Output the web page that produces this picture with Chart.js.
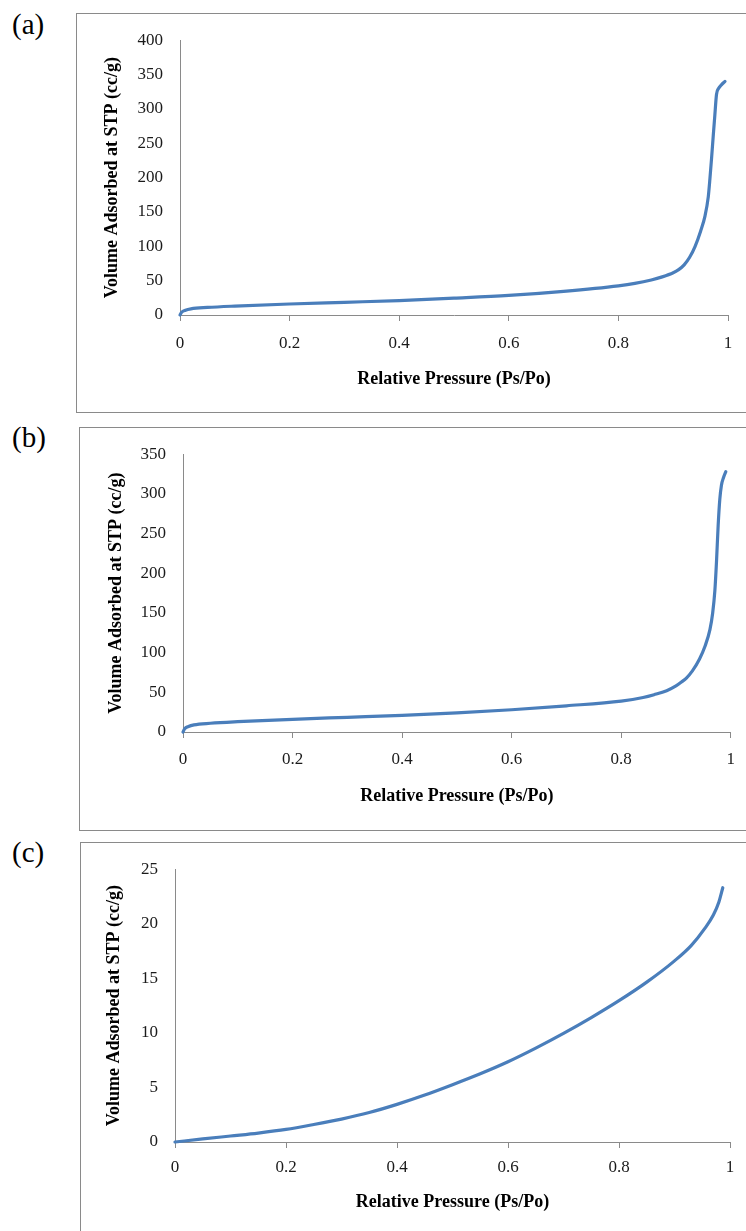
<!DOCTYPE html>
<html><head><meta charset="utf-8">
<script src="https://cdn.jsdelivr.net/npm/chart.js@4"></script>
<style>
body{margin:0;background:#fff;width:746px;height:1231px;overflow:hidden;position:relative}
.box{position:absolute;border:1px solid #8a8a8a;box-sizing:border-box}
.wrap{position:absolute}
.tag{position:absolute;font-family:'Liberation Serif',serif;font-size:29px;line-height:1;color:#000}
</style></head><body>
<div class="tag" id="tagA" style="left:12px;top:10px"></div>
<div class="tag" id="tagB" style="left:12px;top:423px"></div>
<div class="tag" id="tagC" style="left:12px;top:838px"></div>
<div class="box" style="left:76px;top:13px;width:672px;height:400px"></div>
<div class="box" style="left:79px;top:427px;width:669px;height:404px"></div>
<div class="box" style="left:80px;top:842px;width:668px;height:402px"></div>
<div class="wrap" style="left:76px;top:13px;width:670px;height:399px"><canvas id="cA"></canvas></div>
<div class="wrap" style="left:79px;top:427px;width:667px;height:403px"><canvas id="cB"></canvas></div>
<div class="wrap" style="left:80px;top:842px;width:666px;height:400px"><canvas id="cC"></canvas></div>
<script>
// ---- data ----
const panelLabels = ['(a)', '(b)', '(c)'];
const xTitle = 'Relative Pressure (Ps/Po)';
const yTitle = 'Volume Adsorbed at STP (cc/g)';
const xTicks = [0, 0.2, 0.4, 0.6, 0.8, 1];

const pressureA = [0, 0.003, 0.01, 0.02, 0.05, 0.1, 0.2, 0.3, 0.4, 0.5, 0.6, 0.7, 0.8, 0.83, 0.86, 0.88, 0.9, 0.91, 0.92, 0.93, 0.94, 0.95, 0.958, 0.964, 0.967, 0.97, 0.973, 0.976, 0.979, 0.983, 0.988, 0.9945];
const volumeA   = [0, 4, 7, 9, 11, 13, 16, 18.5, 21, 24.5, 28.5, 34.5, 42.5, 46, 51, 55.5, 61.5, 66, 73, 84, 100, 122, 144, 172, 198, 228, 260, 291, 321, 330, 335, 340];
const yTicksA = [0, 50, 100, 150, 200, 250, 300, 350, 400];

const pressureB = [0, 0.003, 0.01, 0.02, 0.05, 0.1, 0.2, 0.3, 0.4, 0.5, 0.6, 0.7, 0.8, 0.84, 0.86, 0.883, 0.9, 0.91, 0.919, 0.93, 0.943, 0.953, 0.962, 0.967, 0.971, 0.974, 0.977, 0.98, 0.983, 0.987, 0.991];
const volumeB   = [0, 4, 7, 9, 11, 13, 16, 18.5, 21, 24, 28, 33, 39, 43.5, 47, 52, 58, 63, 68, 77, 92, 108, 129, 150, 178, 215, 260, 293, 311, 321, 328];
const yTicksB = [0, 50, 100, 150, 200, 250, 300, 350];

const pressureC = [0, 0.05, 0.1, 0.15, 0.2, 0.25, 0.3, 0.35, 0.4, 0.45, 0.5, 0.55, 0.6, 0.65, 0.7, 0.75, 0.8, 0.85, 0.9, 0.93, 0.955, 0.97, 0.98, 0.987];
const volumeC   = [0, 0.28, 0.55, 0.82, 1.15, 1.6, 2.1, 2.7, 3.45, 4.3, 5.25, 6.25, 7.35, 8.6, 9.95, 11.4, 12.95, 14.65, 16.6, 18.0, 19.6, 20.8, 22.0, 23.3];
const yTicksC = [0, 5, 10, 15, 20, 25];

// ---- layout (positions only) ----
const geo = {
  A: {padTop: 20, padRight: 18, yW: 104, xH: 97, yTitlePad: 26, xTitlePad: 22, xTickPad: 12, ySize: 18},
  B: {padTop: 20, padRight: 15, yW: 104, xH: 98, yTitlePad: 27, xTitlePad: 23, xTickPad: 11, ySize: 18},
  C: {padTop: 21, padRight: 16, yW: 95, xH: 100, yTitlePad: 24, xTitlePad: 29, xTickPad: 9, ySize: 18}
};

document.getElementById('tagA').textContent = panelLabels[0];
document.getElementById('tagB').textContent = panelLabels[1];
document.getElementById('tagC').textContent = panelLabels[2];

const axisGray = '#8a8a8a';
const serif = 'Liberation Serif';

function makeChart(id, px, vy, yTicks, g) {
  new Chart(document.getElementById(id), {
    type: 'line',
    data: {datasets: [{
      data: px.map((x, i) => ({x: x, y: vy[i]})),
      borderColor: '#4a7ebb', borderWidth: 3.2, pointRadius: 0,
      cubicInterpolationMode: 'monotone', fill: false,
      borderCapStyle: 'round', borderJoinStyle: 'round', clip: 4
    }]},
    options: {
      responsive: true, maintainAspectRatio: false, animation: false, events: [],
      layout: {padding: {left: 0, top: g.padTop, right: g.padRight, bottom: 0}},
      plugins: {legend: {display: false}, tooltip: {enabled: false}},
      scales: {
        x: {
          type: 'linear', min: xTicks[0], max: xTicks[xTicks.length - 1],
          afterBuildTicks: s => { s.ticks = xTicks.map(v => ({value: v})); },
          ticks: {callback: v => String(v), font: {family: serif, size: 17}, color: '#1a1a1a',
                  padding: g.xTickPad, maxRotation: 0, autoSkip: false},
          grid: {drawOnChartArea: false, drawTicks: true, tickLength: 6, color: axisGray},
          border: {display: true, color: axisGray, width: 1},
          title: {display: true, text: xTitle, color: '#000',
                  font: {family: serif, size: 18, weight: 'bold'},
                  padding: {top: 0, bottom: g.xTitlePad}},
          afterFit: s => { s.height = g.xH; }
        },
        y: {
          type: 'linear', min: yTicks[0], max: yTicks[yTicks.length - 1],
          afterBuildTicks: s => { s.ticks = yTicks.map(v => ({value: v})); },
          ticks: {callback: v => String(v), font: {family: serif, size: 17}, color: '#1a1a1a',
                  padding: 17, autoSkip: false},
          grid: {display: true, drawOnChartArea: false, drawTicks: false, tickLength: 0, color: axisGray},
          border: {display: true, color: axisGray, width: 1},
          title: {display: true, text: yTitle, color: '#000',
                  font: {family: serif, size: g.ySize, weight: 'bold'},
                  padding: {top: g.yTitlePad, bottom: 0}},
          afterFit: s => { s.width = g.yW; }
        }
      }
    }
  });
}

makeChart('cA', pressureA, volumeA, yTicksA, geo.A);
makeChart('cB', pressureB, volumeB, yTicksB, geo.B);
makeChart('cC', pressureC, volumeC, yTicksC, geo.C);
</script>
</body></html>
